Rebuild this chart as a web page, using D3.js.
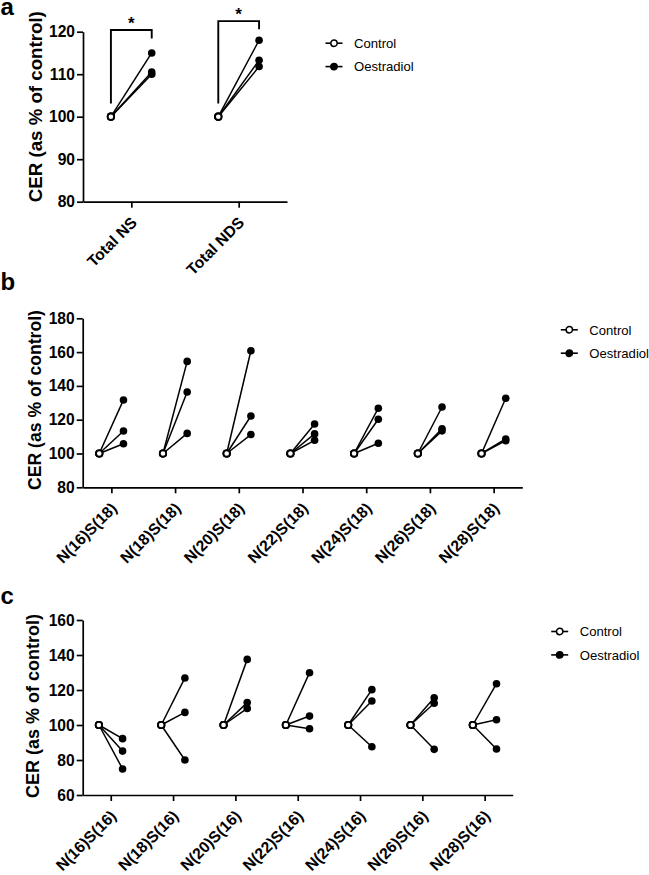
<!DOCTYPE html>
<html>
<head>
<meta charset="utf-8">
<script src="https://cdn.jsdelivr.net/npm/d3@7"></script>
<style>
  html, body { margin: 0; padding: 0; background: #fff; }
  svg { display: block; }
  text { font-family: "Liberation Sans", Arial, sans-serif; fill: #000; }
</style>
</head>
<body>
<svg id="chart" width="649" height="875"></svg>
<script>
// ---------------- DATA ----------------
const groups = ["Control", "Oestradiol"];

// Panel a
const catsA = ["Total NS", "Total NDS"];
const controlA = [[100, 100, 100], [100, 100, 100]];
const oestA = [[115, 110.5, 110], [118, 113.3, 111.8]];
const ticksA = [80, 90, 100, 110, 120];
const sigLabelsA = ["*", "*"];
const sigTopA = [120.4, 122.5];
const sigLeftEndA = [103.1, 103.1];
const sigRightEndA = [118.4, 120.6];

// Panel b
const catsB = ["N(16)S(18)", "N(18)S(18)", "N(20)S(18)", "N(22)S(18)", "N(24)S(18)", "N(26)S(18)", "N(28)S(18)"];
const controlB = catsB.map(() => [100, 100, 100]);
const oestB = [
  [131.7, 113.3, 105.8],
  [154.5, 136.4, 111.9],
  [160.8, 122.2, 111.2],
  [117.5, 111.6, 107.8],
  [126.8, 120.3, 106.1],
  [127.5, 114.6, 113.4],
  [132.7, 108.6, 107.6]
];
const ticksB = [80, 100, 120, 140, 160, 180];

// Panel c
const catsC = ["N(16)S(16)", "N(18)S(16)", "N(20)S(16)", "N(22)S(16)", "N(24)S(16)", "N(26)S(16)", "N(28)S(16)"];
const controlC = catsC.map(() => [100, 100, 100]);
const oestC = [
  [92.2, 85.1, 74.9],
  [126.9, 107.2, 80],
  [137.5, 112.8, 109.5],
  [129.9, 105.1, 97.9],
  [120.2, 113.7, 87.6],
  [115.6, 112.4, 86.1],
  [123.6, 103, 86.3]
];
const ticksC = [60, 80, 100, 120, 140, 160];

const yTitle = "CER (as % of control)";

// ---------------- DRAW ----------------
const svg = d3.select("#chart");

function drawPanel(cfg) {
  const g = svg.append("g");
  const x = d3.scalePoint().domain(cfg.cats).range([cfg.left, cfg.right]).padding(0.45);
  const step = x.step();
  const sub = d3.scalePoint().domain(groups).range([-0.19 * step, 0.19 * step]);
  const y = d3.scaleLinear().domain([cfg.ticks[0], cfg.ticks[cfg.ticks.length - 1]]).range([cfg.bottom, cfg.top]);

  // y axis
  const ya = g.append("g").attr("transform", `translate(${cfg.left},0)`)
    .call(d3.axisLeft(y).tickValues(cfg.ticks).tickSize(6).tickSizeOuter(0).tickPadding(2).tickFormat(d3.format("d")));
  ya.select(".domain").attr("stroke", "#000").attr("stroke-width", 1.7);
  ya.selectAll(".tick line").attr("stroke", "#000").attr("stroke-width", 1.7);
  ya.selectAll(".tick text").attr("font-size", 15.6).attr("font-weight", "bold")
    .attr("font-family", "'Liberation Sans', Arial, sans-serif").attr("fill", "#000");

  // x axis
  const xa = g.append("g").attr("transform", `translate(0,${cfg.bottom})`)
    .call(d3.axisBottom(x).tickSize(6).tickSizeOuter(0));
  xa.select(".domain").attr("stroke", "#000").attr("stroke-width", 1.7);
  xa.selectAll(".tick line").attr("stroke", "#000").attr("stroke-width", 1.7);
  xa.selectAll(".tick text")
    .attr("font-size", 15.7).attr("font-weight", "bold")
    .attr("font-family", "'Liberation Sans', Arial, sans-serif").attr("fill", "#000")
    .attr("text-anchor", "end")
    .attr("x", 0).attr("y", 0).attr("dy", 0)
    .attr("transform", "translate(6,22) rotate(-45)");

  // y title
  g.append("text")
    .attr("transform", `translate(${cfg.titleX},${cfg.titleY}) rotate(-90)`)
    .attr("text-anchor", "middle")
    .attr("font-size", cfg.titleSize).attr("font-weight", "bold")
    .text(yTitle);

  // connecting lines
  const pairs = [];
  cfg.cats.forEach((c, i) => {
    cfg.control[i].forEach((cv, j) => {
      pairs.push({ c, cv, ov: cfg.oest[i][j] });
    });
  });
  const line = d3.line().x(d => d[0]).y(d => d[1]);
  g.append("g").selectAll("path").data(pairs).join("path")
    .attr("d", d => line([[x(d.c) + sub("Control"), y(d.cv)], [x(d.c) + sub("Oestradiol"), y(d.ov)]]))
    .attr("fill", "none").attr("stroke", "#000").attr("stroke-width", 1.5);

  // oestradiol points
  g.append("g").selectAll("circle").data(pairs).join("circle")
    .attr("cx", d => x(d.c) + sub("Oestradiol")).attr("cy", d => y(d.ov))
    .attr("r", 3.8).attr("fill", "#000");
  // control points
  g.append("g").selectAll("circle").data(pairs).join("circle")
    .attr("cx", d => x(d.c) + sub("Control")).attr("cy", d => y(d.cv))
    .attr("r", 3.2).attr("fill", "#fff").attr("stroke", "#000").attr("stroke-width", 1.8);

  // significance brackets
  if (cfg.sig) {
    cfg.cats.forEach((c, i) => {
      const xl = x(c) + sub("Control"), xr = x(c) + sub("Oestradiol");
      g.append("path")
        .attr("d", `M${xl},${y(cfg.sig.left[i])}V${y(cfg.sig.top[i])}H${xr}V${y(cfg.sig.right[i])}`)
        .attr("fill", "none").attr("stroke", "#000").attr("stroke-width", 1.9);
      g.append("text")
        .attr("x", (xl + xr) / 2).attr("y", y(cfg.sig.top[i]) - 1.5)
        .attr("text-anchor", "middle").attr("font-size", 17).attr("font-weight", "bold")
        .text(cfg.sig.labels[i]);
    });
  }

  // legend
  const lg = g.append("g").attr("transform", `translate(${cfg.right + 38.5},${cfg.top + 11.5})`);
  groups.forEach((name, k) => {
    const row = lg.append("g").attr("transform", `translate(0,${k * 23.4})`);
    row.append("line").attr("x1", 0).attr("x2", 17).attr("y1", 0).attr("y2", 0)
      .attr("stroke", "#000").attr("stroke-width", 1.6);
    row.append("circle").attr("cx", 8.5).attr("cy", 0).attr("r", 3.2)
      .attr("fill", name === "Control" ? "#fff" : "#000")
      .attr("stroke", "#000").attr("stroke-width", 1.5);
    row.append("text").attr("x", 28.5).attr("y", 0).attr("dy", "0.36em")
      .attr("font-size", 13.1).text(name);
  });

  // panel letter
  svg.append("text").attr("x", 0.5).attr("y", cfg.letterY)
    .attr("font-size", 24).attr("font-weight", "bold").text(cfg.letter);
}

drawPanel({
  letter: "a", letterY: 15,
  cats: catsA, control: controlA, oest: oestA, ticks: ticksA,
  left: 83, right: 287, top: 31.7, bottom: 201.7,
  titleX: 41.5, titleY: 106.7, titleSize: 18.7,
  sig: { labels: sigLabelsA, top: sigTopA, left: sigLeftEndA, right: sigRightEndA }
});
drawPanel({
  letter: "b", letterY: 290,
  cats: catsB, control: controlB, oest: oestB, ticks: ticksB,
  left: 82.7, right: 522.3, top: 318.3, bottom: 487.3,
  titleX: 40.5, titleY: 400, titleSize: 17.6
});
drawPanel({
  letter: "c", letterY: 604,
  cats: catsC, control: controlC, oest: oestC, ticks: ticksC,
  left: 82.7, right: 512.7, top: 620, bottom: 795,
  titleX: 39, titleY: 706, titleSize: 18
});
</script>
</body>
</html>
